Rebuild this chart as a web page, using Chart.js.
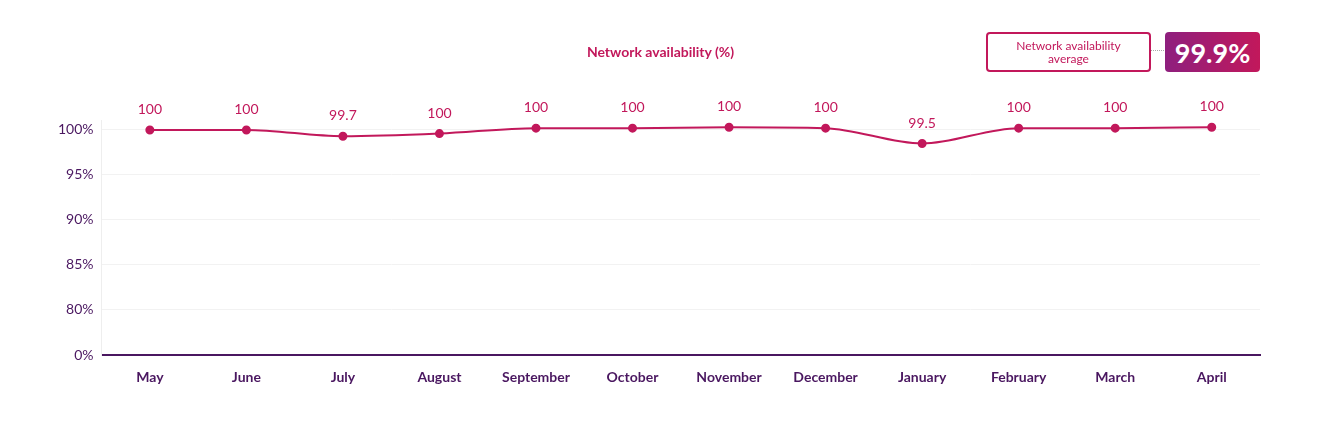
<!DOCTYPE html>
<html><head><meta charset="utf-8">
<script src="https://cdn.jsdelivr.net/npm/chart.js@4"></script>
<style>
body{margin:0;background:#fff;font-family:Lato,sans-serif;}
#wrap{position:relative;width:1321px;height:426px;}
#title{position:absolute;top:43px;left:0;width:1321px;text-align:center;color:#c2185b;font-size:14px;font-weight:700;}
#box{position:absolute;left:986px;top:32px;width:161px;height:36px;border:2px solid #c2185b;border-radius:4px;color:#c2185b;font-size:12px;line-height:13px;text-align:center;display:flex;align-items:center;justify-content:center;}
#dots{position:absolute;left:1151px;top:50px;width:13px;border-top:1px dotted #aaa;}
#val{position:absolute;left:1165px;top:32px;width:95px;height:40px;border-radius:4px;background:linear-gradient(90deg,#8e1f7e,#c2185b);color:#fff;font-size:27px;font-weight:700;display:flex;align-items:center;justify-content:center;}
</style></head><body>
<div id="wrap">
<canvas id="c" width="1321" height="426"></canvas>
<div id="title">Network availability (%)</div>
<div id="box">Network availability<br>average</div>
<div id="dots"></div>
<div id="val">99.9%</div>
</div>
<script>
const categories=['May','June','July','August','September','October','November','December','January','February','March','April'];
const values=[100,100,99.7,100,100,100,100,100,99.5,100,100,100];
const plotted=[99.9,99.9,99.2,99.5,100.1,100.1,100.2,100.1,98.4,100.1,100.1,100.2];
const yTicks=[75,80,85,90,95,100];
const yTickLabels=['0%','80%','85%','90%','95%','100%'];
const red='#c2185b', purple='#4a1760';
const labelPlugin={id:'lbl',afterDatasetsDraw(ch){const ctx=ch.ctx;const m=ch.getDatasetMeta(0);ctx.save();ctx.fillStyle=red;ctx.font='14px Lato';ctx.textAlign='center';m.data.forEach((p,i)=>{ctx.fillText(String(values[i]),p.x,p.y-16);});ctx.restore();}};
new Chart(document.getElementById('c'),{type:'line',
data:{labels:categories,datasets:[{data:plotted,borderColor:red,backgroundColor:red,borderWidth:2,pointRadius:3.5,cubicInterpolationMode:'monotone',tension:0.4}]},
options:{responsive:false,animation:false,layout:{padding:{left:50,right:61,top:120,bottom:34}},
plugins:{legend:{display:false},tooltip:{enabled:false}},
scales:{x:{offset:true,grid:{display:false},border:{color:purple,width:2},ticks:{color:purple,font:{family:'Lato',size:14,weight:'700'},padding:6}},
y:{min:75,max:101,afterBuildTicks(a){a.ticks=yTicks.map(v=>({value:v}));},grid:{color:'#f2f2f2',drawTicks:false},border:{display:true,color:'#eee'},ticks:{padding:8,color:purple,font:{family:'Lato',size:14},callback:(v)=>yTickLabels[yTicks.indexOf(v)]}}}},
plugins:[labelPlugin]});
</script></body></html>
